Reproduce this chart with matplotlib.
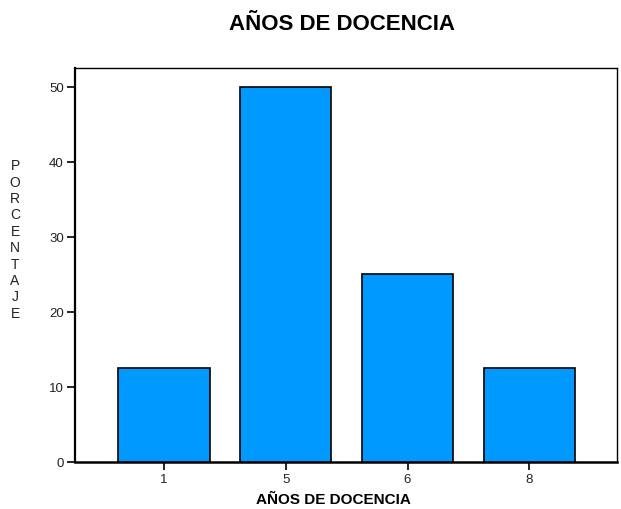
import numpy as np
import matplotlib
matplotlib.use('Agg')
import matplotlib.pyplot as plt

plt.rcParams['font.family'] = ['Liberation Sans', 'DejaVu Sans']

# data
categorias = ['1', '5', '6', '8']
porcentaje = [12.5, 50.0, 25.0, 12.5]
yticks = [0, 10, 20, 30, 40, 50]

fig = plt.figure(figsize=(6.21, 5.10), dpi=100)
ax = fig.add_axes([75/621, 47/510, 542/621, 394/510])

pos = np.arange(len(categorias))
ax.bar(pos, porcentaje, width=0.75, color='#0099ff', edgecolor='black', linewidth=1.2, zorder=3)

ax.set_xlim(-0.73, 3.72)
ax.set_ylim(0, 52.5)
ax.set_xticks(pos)
ax.set_xticklabels(categorias)
ax.set_yticks(yticks)
ax.tick_params(axis='both', direction='out', length=6, width=1.2, labelsize=9.5, pad=2,
               color='black', labelcolor='#222222')

for s in ax.spines.values():
    s.set_linewidth(1.0)
ax.spines['left'].set_linewidth(1.6)
ax.spines['bottom'].set_linewidth(1.8)

fig.text(333/621, 1 - 500/510, 'AÑOS DE DOCENCIA', ha='center', va='center',
         fontsize=11, fontweight='bold')
fig.text(15/621, 1 - 240/510, '\n'.join('PORCENTAJE'), ha='center', va='center',
         fontsize=10, linespacing=1.22, color='#222222')

fig.text(342/621, 1 - 24/510, 'AÑOS DE DOCENCIA', ha='center', va='center',
         fontsize=16, fontweight='bold')

fig.savefig('out.png', dpi=100)
